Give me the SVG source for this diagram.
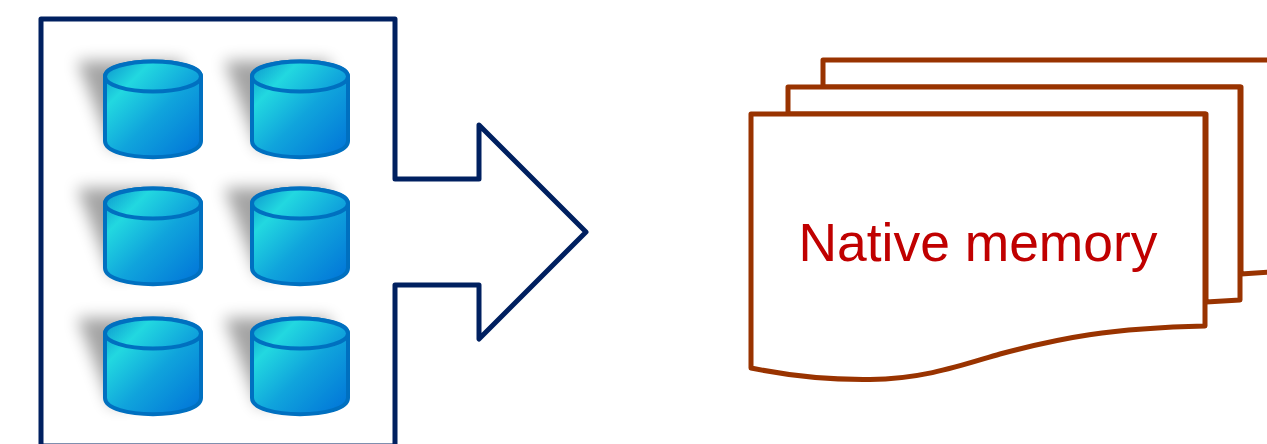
<svg xmlns="http://www.w3.org/2000/svg" xmlns:xlink="http://www.w3.org/1999/xlink" width="1267" height="444" viewBox="0 0 1267 444">
<style>
.doc{fill:#fff;stroke:#993300;stroke-width:5;stroke-linejoin:round}
.cyl{fill:url(#g);stroke:#0070c0;stroke-width:4;stroke-linejoin:round}
.sh{fill:#000;opacity:.36;filter:url(#b)}
.arrow{fill:#fff;stroke:#002060;stroke-width:5;stroke-linejoin:round}
.t{font-family:"Liberation Sans",Arial,sans-serif;font-size:53.4px;fill:#c00000}
</style>
<defs>
<linearGradient id="g" gradientUnits="userSpaceOnUse" x1="-49" y1="-49" x2="49" y2="49">
<stop offset="0" stop-color="#0a8fcc"/>
<stop offset=".25" stop-color="#22d8e0"/>
<stop offset=".55" stop-color="#10a4dc"/>
<stop offset="1" stop-color="#0070d8"/>
</linearGradient>
<filter id="b" x="-40%" y="-40%" width="180%" height="180%"><feGaussianBlur stdDeviation="8"/></filter>
<g id="c">
<path class="sh" d="M-76,-48 L30,-48 L30,30 L-42,40 Q-60,-10 -76,-48Z"/>
<path class="cyl" d="M-48,-32.500 C-48,-52.500 48,-52.500 48,-32.500 L48,32 C48,53.500 -48,53.500 -48,32Z"/>
<ellipse class="cyl" cx="0" cy="-32.500" rx="48" ry="15"/>
</g>
</defs>
<g id="source">
<path class="arrow" d="M41,19 H395 V179 H479 V125 L586,232 L479,339 V285 H395 V446 H41Z"/>
</g>
<g id="cylinders">
<g id="c1"><use xlink:href="#c" href="#c" x="153" y="109"/></g>
<g id="c2"><use xlink:href="#c" href="#c" x="300" y="109"/></g>
<g id="c3"><use xlink:href="#c" href="#c" x="153" y="236"/></g>
<g id="c4"><use xlink:href="#c" href="#c" x="300" y="236"/></g>
<g id="c5"><use xlink:href="#c" href="#c" x="153" y="366"/></g>
<g id="c6"><use xlink:href="#c" href="#c" x="300" y="366"/></g>
</g>
<g id="memory">
<path class="doc" d="M823,87 V60 H1270 V272 L1241,274 V87Z"/>
<path class="doc" d="M788,114 V87 H1240 V300 L1206,302 V114Z"/>
<path class="doc" d="M751,114 H1205 V326 C1110,328 1060,338 1000,354 C965,364 925,379 870,379.500 C830,380 790,376 751,368Z"/>
<text class="t" x="978" y="261" text-anchor="middle">Native memory</text>
</g>
</svg>
